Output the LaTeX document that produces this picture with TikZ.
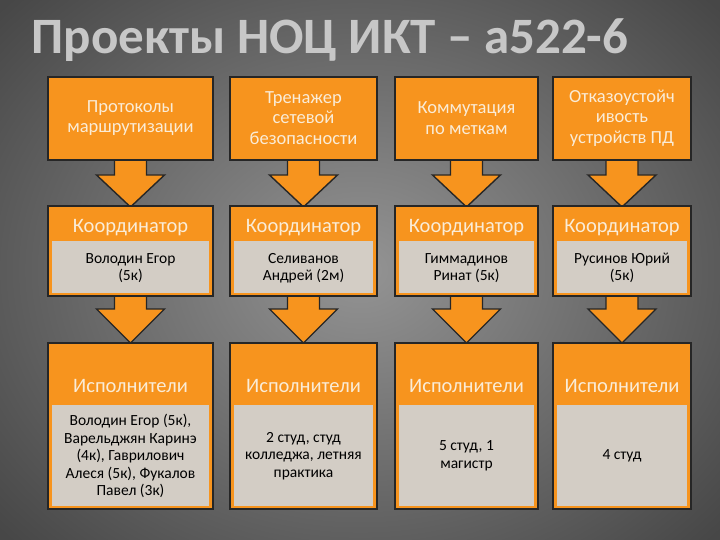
\documentclass[tikz,border=0pt]{standalone}
\usepackage{fontspec}
\setmainfont{Carlito}
\usetikzlibrary{calc,shadings}
\definecolor{org}{RGB}{247,148,30}
\definecolor{pale}{RGB}{211,205,197}
\definecolor{cream}{RGB}{250,236,215}
\tikzset{
  obox/.style={draw=black!85,line width=1.6pt,fill=org,inner sep=0pt},
  gbox/.style={fill=pale,inner sep=0pt},
  otext/.style={text=cream,align=center,font=\fontsize{18.5}{20.5}\selectfont},
  htext/.style={text=cream,font=\fontsize{20.5}{23}\selectfont},
  gtext/.style={text=black,align=center,font=\fontsize{15.5}{17.5}\selectfont},
  barrow/.style={draw=black!85,line width=1.4pt,fill=org,line join=miter}
}
\newcommand{\blockarrow}[5]{% x, ytop, yhead, ytip, name
  \draw[barrow] (#1-16,#2) -- (#1-16,#3) -- (#1-34,#3) -- (#1,#4) -- (#1+34,#3) -- (#1+16,#3) -- (#1+16,#2);
}
\begin{document}
\begin{tikzpicture}[x=1pt,y=-1pt]
\useasboundingbox (0,0) rectangle (720,540);
\shade[inner color=black!42,outer color=black!72] (-120,-120) rectangle (840,660);
\node[text=black!22,font=\bfseries\fontsize{51}{58}\selectfont,anchor=west] (title) at (28,40) {Проекты НОЦ ИКТ – а522-6};
\foreach \i/\l/\r/\top/\coord/\exec in {
 1/48/213/{Протоколы\\маршрутизации}/{Володин Егор\\(5к)}/{Володин Егор (5к),\\Варельджян Каринэ\\(4к), Гаврилович\\Алеся (5к), Фукалов\\Павел (3к)},
 2/230/377/{Тренажер\\сетевой\\безопасности}/{Селиванов\\Андрей (2м)}/{2 студ, студ\\колледжа, летняя\\практика},
 3/395/538/{Коммутация\\по меткам}/{Гиммадинов\\Ринат (5к)}/{5 студ, 1\\магистр},
 4/553/691/{Отказоустойч\\ивость\\устройств ПД}/{Русинов Юрий\\(5к)}/{4 студ}}{
  \pgfmathsetmacro{\c}{(\l+\r)/2}
  \blockarrow{\c}{160}{175}{207}{a\i}
  \blockarrow{\c}{295}{309}{343}{b\i}
  \draw[obox] (\l,77) rectangle (\r,160);
  \node[otext] (t\i) at (\c,118) {\top};
  \draw[obox] (\l,206) rectangle (\r,296);
  \fill[gbox] (\l+4,241) rectangle (\r-4,293);
  \node[htext] (h\i) at (\c,228) {Координатор};
  \node[gtext] (g\i) at (\c,268) {\coord};
  \draw[obox] (\l,343) rectangle (\r,509);
  \fill[gbox] (\l+4,405) rectangle (\r-4,506);
  \node[htext] (e\i) at (\c,386) {Исполнители};
  \node[gtext] (x\i) at (\c,456) {\exec};
}
\end{tikzpicture}
\end{document}
